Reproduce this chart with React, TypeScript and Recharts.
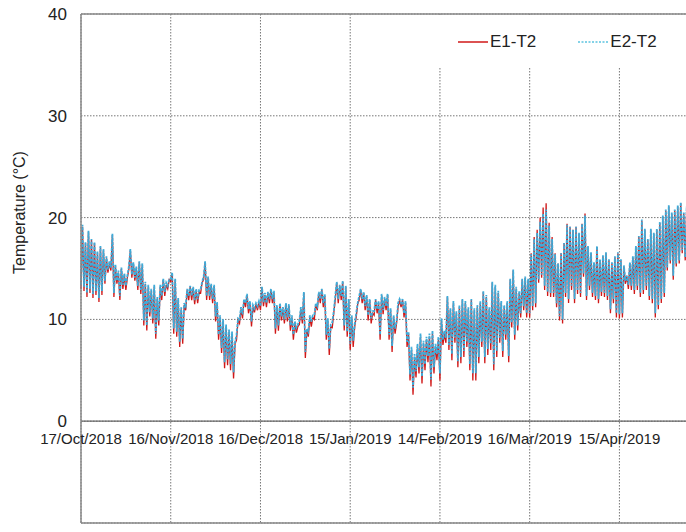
import React from 'react';
import { LineChart, Line, XAxis, YAxis, CartesianGrid, ReferenceLine, Legend, Label } from 'recharts';

const FONT = '"Liberation Sans", Arial, sans-serif';

// x axis: days since 17/Oct/2018
const xTicks = [0, 30, 60, 90, 120, 150, 180];
const xLabels = ['17/Oct/2018', '16/Nov/2018', '16/Dec/2018', '15/Jan/2019', '14/Feb/2019', '16/Mar/2019', '15/Apr/2019'];
const yTicks = [-10, 0, 10, 20, 30, 40];

// daily highs / lows (°C), one value per day
const e1High = [
  19.1, 17.5, 18.6, 17.8, 17.5, 16.5, 17.1, 16.8, 16.0, 15.5,
  18.3, 15.2, 14.6, 15.0, 14.3, 14.1, 16.8, 15.5, 15.0, 15.6,
  15.4, 13.5, 13.2, 12.8, 13.2, 12.0, 13.2, 13.9, 13.4, 13.9,
  14.5, 13.9, 11.9, 11.0, 11.4, 12.9, 13.2, 13.1, 12.8, 12.7,
  13.6, 15.6, 14.1, 13.4, 13.2, 11.5, 10.2, 9.8, 9.3, 8.8,
  8.6, 7.6, 9.9, 11.0, 11.9, 12.4, 11.6, 11.2, 11.5, 11.7,
  13.1, 12.4, 12.6, 12.9, 12.6, 11.2, 11.5, 11.0, 11.5, 11.3,
  10.2, 9.6, 9.3, 11.0, 12.6, 8.9, 10.2, 10.2, 11.5, 12.6,
  12.9, 12.3, 9.9, 9.3, 10.6, 13.6, 13.3, 13.7, 13.2, 11.9,
  10.2, 9.3, 11.5, 12.9, 12.6, 12.2, 11.9, 10.6, 11.9, 11.6,
  12.4, 12.0, 12.4, 10.9, 10.2, 9.6, 11.9, 11.9, 11.6, 8.6,
  7.0, 6.3, 7.3, 8.3, 7.6, 8.0, 8.3, 8.6, 7.3, 8.0,
  9.9, 8.6, 12.2, 10.9, 11.6, 10.6, 11.2, 11.9, 11.6, 11.0,
  11.9, 10.9, 11.2, 11.6, 12.7, 12.2, 11.0, 13.6, 13.2, 12.6,
  11.6, 11.2, 11.6, 13.9, 14.8, 13.0, 12.6, 13.9, 14.1, 13.9,
  16.5, 18.1, 18.8, 20.0, 21.0, 21.4, 19.5, 18.1, 16.5, 15.5,
  16.5, 17.5, 19.4, 19.1, 18.8, 19.1, 18.4, 19.4, 20.4, 17.1,
  16.5, 15.5, 17.1, 15.8, 16.2, 16.5, 15.8, 15.5, 16.1, 16.5,
  15.8, 15.2, 14.2, 15.5, 16.1, 17.1, 18.1, 19.7, 18.8, 17.8,
  18.8, 18.4, 18.8, 19.5, 20.1, 20.7, 21.1, 20.4, 20.7, 21.1,
  21.4, 20.4, 21.0, 20.5,
];
const e1Low = [
  13.0, 12.8, 12.2, 12.6, 12.1, 12.4, 11.7, 12.4, 13.5, 14.6,
  14.8, 12.2, 13.5, 11.9, 13.0, 12.9, 14.9, 14.1, 13.8, 12.9,
  12.5, 9.4, 8.9, 10.3, 9.6, 8.1, 9.4, 11.9, 12.3, 13.0,
  13.7, 8.6, 8.3, 7.3, 7.6, 10.9, 11.9, 11.9, 11.5, 11.6,
  12.6, 13.9, 11.9, 11.9, 11.6, 9.8, 8.0, 6.7, 5.2, 5.5,
  5.0, 4.2, 8.0, 9.6, 10.1, 11.2, 10.6, 9.3, 10.7, 10.9,
  10.9, 11.3, 11.2, 11.6, 11.6, 8.6, 8.9, 9.9, 9.6, 9.8,
  8.9, 8.0, 8.7, 9.5, 9.6, 6.2, 8.3, 9.3, 10.0, 10.9,
  11.6, 11.2, 8.0, 6.5, 9.2, 11.9, 11.6, 11.9, 8.9, 8.3,
  7.0, 7.3, 10.2, 11.9, 11.6, 10.9, 9.9, 9.6, 10.4, 10.6,
  8.0, 10.5, 10.9, 8.0, 6.8, 8.6, 11.2, 11.2, 10.2, 7.3,
  4.0, 2.6, 4.3, 4.7, 3.7, 5.0, 5.8, 3.4, 4.7, 6.0,
  4.0, 7.5, 7.7, 7.0, 6.0, 7.7, 5.3, 5.7, 6.3, 7.3,
  5.0, 4.0, 4.0, 5.7, 7.3, 5.7, 6.5, 7.0, 5.0, 6.3,
  7.7, 6.3, 8.0, 5.8, 9.2, 8.0, 8.9, 10.2, 10.9, 10.2,
  10.2, 10.9, 11.2, 13.6, 14.1, 12.9, 12.3, 12.2, 12.2, 11.2,
  9.9, 9.6, 12.2, 11.6, 12.9, 11.6, 12.5, 12.2, 14.2, 11.9,
  12.9, 12.2, 11.9, 11.6, 12.3, 12.2, 11.9, 10.6, 11.6, 10.2,
  10.1, 10.2, 13.5, 13.0, 12.9, 12.5, 12.9, 12.2, 12.5, 12.9,
  11.9, 11.6, 10.2, 11.0, 11.6, 12.2, 14.8, 15.5, 13.9, 15.2,
  15.5, 16.5, 15.8, 16.0,
];
const e2High = [
  19.3, 17.6, 18.7, 17.9, 17.6, 16.7, 17.2, 16.9, 16.2, 15.7,
  18.4, 15.4, 14.8, 15.1, 14.5, 14.3, 16.9, 15.6, 15.2, 15.7,
  15.5, 13.7, 13.4, 13.0, 13.4, 12.2, 13.4, 14.0, 13.6, 14.0,
  14.6, 14.0, 12.1, 11.2, 11.6, 13.0, 13.3, 13.2, 13.0, 12.9,
  13.7, 15.7, 14.2, 13.5, 13.4, 11.7, 10.4, 10.0, 9.5, 9.0,
  8.8, 7.8, 10.1, 11.2, 12.0, 12.5, 11.8, 11.4, 11.6, 11.8,
  13.2, 12.6, 12.7, 13.0, 12.8, 11.4, 11.6, 11.2, 11.6, 11.5,
  10.4, 9.8, 9.5, 11.2, 12.7, 9.1, 10.4, 10.4, 11.6, 12.7,
  13.0, 12.5, 10.1, 9.5, 10.8, 13.7, 13.4, 13.8, 13.3, 12.0,
  10.4, 9.5, 11.6, 13.0, 12.7, 12.4, 12.0, 10.8, 12.0, 11.8,
  12.5, 12.2, 12.5, 11.1, 10.4, 9.8, 12.0, 12.0, 11.8, 8.8,
  7.3, 6.6, 7.6, 8.6, 7.9, 8.3, 8.6, 8.9, 7.6, 8.3,
  10.1, 8.9, 12.3, 11.1, 11.8, 10.8, 11.4, 12.0, 11.8, 11.2,
  12.0, 11.1, 11.4, 11.8, 12.8, 12.4, 11.2, 13.7, 13.4, 12.8,
  11.8, 11.4, 11.8, 14.0, 14.9, 13.2, 12.8, 14.0, 14.2, 14.0,
  16.4, 17.9, 18.5, 19.6, 20.4, 20.8, 19.2, 17.9, 16.4, 15.5,
  16.5, 17.5, 19.3, 19.1, 18.8, 19.1, 18.5, 19.4, 20.2, 17.2,
  16.6, 15.6, 17.2, 15.9, 16.3, 16.6, 15.9, 15.6, 16.2, 16.6,
  15.9, 15.3, 14.3, 15.6, 16.2, 17.2, 18.2, 19.8, 18.9, 17.9,
  18.9, 18.5, 18.9, 19.6, 20.2, 20.8, 21.2, 20.5, 20.8, 21.2,
  21.5, 20.5, 21.1, 20.6,
];
const e2Low = [
  13.4, 13.2, 12.6, 13.0, 12.5, 12.8, 12.1, 12.8, 13.8, 14.9,
  15.1, 12.6, 13.8, 12.3, 13.4, 13.3, 15.2, 14.4, 14.1, 13.3,
  12.9, 9.9, 9.4, 10.7, 10.1, 8.6, 9.9, 12.3, 12.7, 13.3,
  14.0, 9.1, 8.8, 7.8, 8.1, 11.3, 12.3, 12.3, 11.9, 12.0,
  13.0, 14.2, 12.3, 12.3, 12.0, 10.3, 8.5, 7.2, 5.8, 6.1,
  5.6, 4.8, 8.5, 10.0, 10.5, 11.6, 11.0, 9.8, 11.1, 11.3,
  11.3, 11.7, 11.6, 12.0, 12.0, 9.1, 9.4, 10.3, 10.0, 10.2,
  9.4, 8.5, 9.2, 9.9, 10.0, 6.8, 8.8, 9.8, 10.4, 11.3,
  12.0, 11.6, 8.5, 7.1, 9.7, 12.3, 12.0, 12.3, 9.4, 8.8,
  7.6, 7.9, 10.6, 12.3, 12.0, 11.3, 10.4, 10.1, 10.8, 11.0,
  8.5, 10.9, 11.3, 8.5, 7.4, 9.1, 11.6, 11.6, 10.6, 7.8,
  4.6, 3.3, 4.9, 5.3, 4.4, 5.6, 6.4, 4.1, 5.3, 6.6,
  4.7, 8.0, 8.2, 7.5, 6.6, 8.2, 5.9, 6.3, 6.9, 7.8,
  5.6, 4.7, 4.7, 6.3, 7.8, 6.3, 7.1, 7.6, 5.6, 6.9,
  8.2, 6.9, 8.5, 6.4, 9.7, 8.5, 9.4, 10.6, 11.3, 10.6,
  10.6, 11.3, 11.6, 13.9, 14.4, 13.3, 12.7, 12.6, 12.6, 11.6,
  10.3, 10.0, 12.6, 12.0, 13.3, 12.0, 12.9, 12.6, 14.5, 12.3,
  13.3, 12.6, 12.3, 12.0, 12.7, 12.6, 12.3, 11.0, 12.0, 10.6,
  10.5, 10.6, 13.8, 13.4, 13.3, 12.9, 13.3, 12.6, 12.9, 13.3,
  12.3, 12.0, 10.6, 11.4, 12.0, 12.6, 15.1, 15.8, 14.3, 15.5,
  15.8, 16.8, 16.1, 16.3,
];

// low in the morning, high in the afternoon
const data = e1Low.flatMap((lo, d) => [
  { t: d, e1: lo, e2: e2Low[d] },
  { t: d + 0.5, e1: e1High[d], e2: e2High[d] },
]);

const RED = '#d01818';
const CYAN = '#3fabd8';
const ZERO_SHIFT = 102; // px between plot bottom (-10) and the 0 line

const XTick = ({ x, y, payload }: any) => (
  <text x={x} y={y - ZERO_SHIFT + 23} textAnchor="middle" fontSize={15} fontFamily={FONT} fill="#222">
    {xLabels[xTicks.indexOf(payload.value)]}
  </text>
);

const YTitle = ({ viewBox }: any) => {
  const cy = viewBox.y + viewBox.height * 0.39;
  return (
    <text x={20} y={cy} transform={`rotate(-90 20 ${cy})`} textAnchor="middle" dominantBaseline="central"
      fontSize={16} fontFamily={FONT} fill="#222">
      Temperature (°C)
    </text>
  );
};

const LegendBox = () => (
  <div style={{ background: '#fff', width: 261, height: 53, display: 'flex', alignItems: 'center',
    paddingLeft: 33, boxSizing: 'border-box', fontFamily: FONT, fontSize: 17, color: '#222' }}>
    <svg width={30} height={4}><line x1={0} y1={2} x2={30} y2={2} stroke={RED} strokeWidth={1.5} /></svg>
    <span style={{ marginLeft: 2 }}>E1-T2</span>
    <svg width={30} height={4} style={{ marginLeft: 42 }}>
      <line x1={0} y1={2} x2={30} y2={2} stroke="#5cc3e0" strokeWidth={1.5} strokeDasharray="2 1.5" />
    </svg>
    <span style={{ marginLeft: 2 }}>E2-T2</span>
  </div>
);

export default function App() {
  return (
    <div style={{ position: 'absolute', left: 0, top: 0, width: 686, height: 532, overflow: 'hidden', background: '#fff' }}>
      <LineChart width={760} height={532} data={data} margin={{ top: 14, right: 0, bottom: 8, left: 0 }}>
        <CartesianGrid stroke="#777" strokeDasharray="1.5 1.5" />
        <XAxis type="number" dataKey="t" domain={[0, 227]} ticks={xTicks} interval={0} height={1}
          tickSize={0} tickMargin={0} tick={<XTick />} axisLine={{ stroke: '#888', strokeWidth: 1.5 }} tickLine={false} />
        <YAxis type="number" domain={[-10, 40]} ticks={yTicks} width={81} tickSize={0} tickMargin={14}
          tick={{ fontSize: 17, fontFamily: FONT, fill: '#222' }} axisLine={{ stroke: '#888', strokeWidth: 1.5 }} tickLine={false}>
          <Label content={<YTitle />} />
        </YAxis>
        <ReferenceLine y={40} stroke="#888" strokeWidth={1.5} />
        <ReferenceLine y={0} stroke="#666" strokeWidth={1.2} />
        <Line type="linear" dataKey="e1" name="E1-T2" stroke={RED} strokeWidth={1.3} dot={false} isAnimationActive={false} />
        <Line type="linear" dataKey="e2" name="E2-T2" stroke={CYAN} strokeWidth={1.8} strokeDasharray="3 1.2" dot={false} isAnimationActive={false} />
        <Legend layout="vertical" align="center" verticalAlign="middle" content={<LegendBox />}
          wrapperStyle={{ left: 425, top: 15, width: 261 }} />
      </LineChart>
    </div>
  );
}
